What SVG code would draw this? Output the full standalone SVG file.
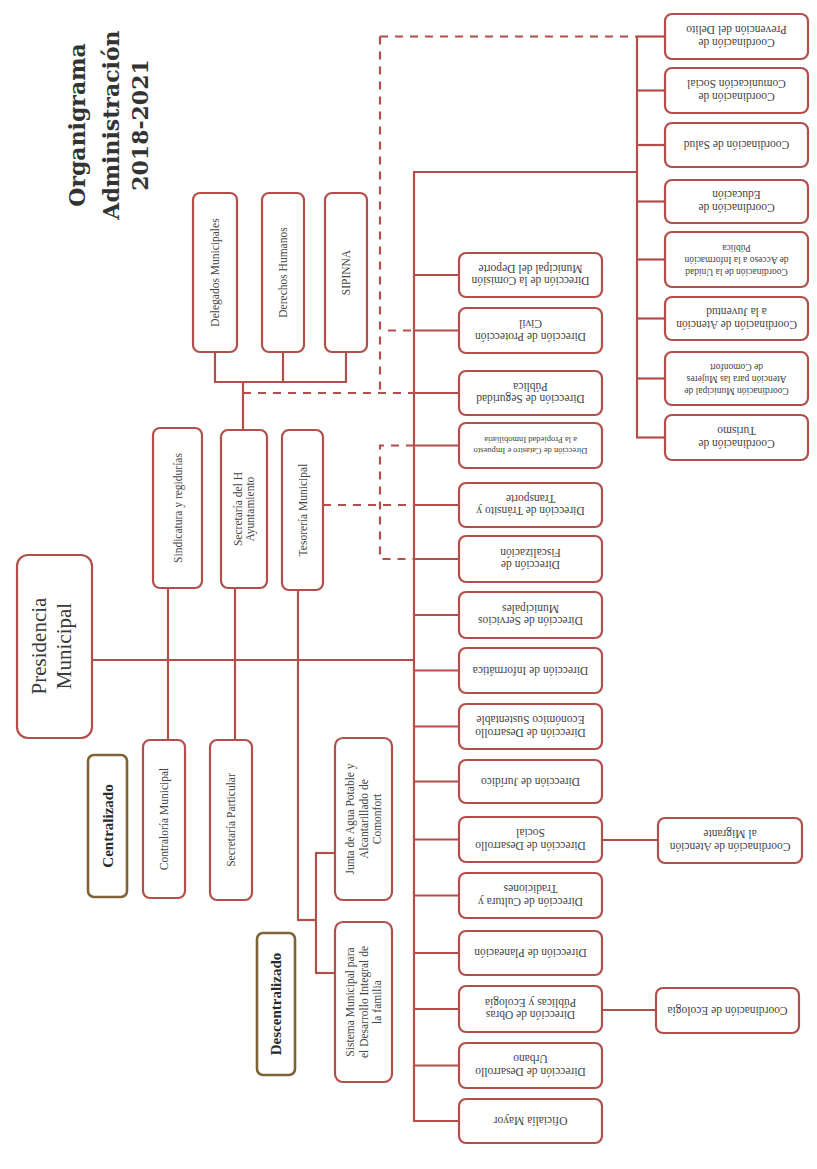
<svg xmlns="http://www.w3.org/2000/svg" width="817" height="1169" viewBox="0 0 817 1169">
<style>
.bg{fill:#ffffff}
.box{fill:#ffffff;stroke:#b24f4a;stroke-width:2.2}
.cat{fill:#ffffff;stroke:#7f6238;stroke-width:2.6}
.conn{stroke:#b24f4a;stroke-width:2.2;fill:none}
.dash{stroke-dasharray:8 7}
.t{font-family:"Liberation Serif","Times New Roman",serif;font-size:11.5px;fill:#444444;text-anchor:middle}
.s{font-size:9.5px}
.xs{font-size:8.5px}
.big{font-size:21px;fill:#3a3a3a}
.b{font-weight:bold;font-size:15px;fill:#2a2a2a}
.title{font-family:"DejaVu Serif",serif;font-weight:bold;font-size:22px;fill:#333333;text-anchor:middle}
</style>
<rect class="bg" x="0" y="0" width="817" height="1169"/>

<g id="titulo">
<text class="title" transform="rotate(-90 111 125)"><tspan x="111" y="99">Organigrama</tspan><tspan x="111" y="133">Administración</tspan><tspan x="111" y="162">2018-2021</tspan></text>
</g>

<g id="connectors">
<!-- main bus -->
<line class="conn" x1="414" y1="172" x2="414" y2="1121"/>
<line class="conn" x1="413" y1="172" x2="637" y2="172"/>
<!-- coordinaciones bus -->
<line class="conn" x1="637" y1="36.5" x2="637" y2="437.5"/>
<line class="conn" x1="637" y1="36.5" x2="665" y2="36.5"/>
<line class="conn" x1="637" y1="90.5" x2="665" y2="90.5"/>
<line class="conn" x1="637" y1="145" x2="665" y2="145"/>
<line class="conn" x1="637" y1="201.5" x2="665" y2="201.5"/>
<line class="conn" x1="637" y1="259.5" x2="665" y2="259.5"/>
<line class="conn" x1="637" y1="318.5" x2="665" y2="318.5"/>
<line class="conn" x1="637" y1="378.5" x2="665" y2="378.5"/>
<line class="conn" x1="636" y1="437.5" x2="665" y2="437.5"/>
<!-- direcciones stubs -->
<line class="conn" x1="414" y1="275" x2="459" y2="275"/>
<line class="conn" x1="414" y1="330.5" x2="459" y2="330.5"/>
<line class="conn" x1="414" y1="393" x2="459" y2="393"/>
<line class="conn" x1="414" y1="445.5" x2="459" y2="445.5"/>
<line class="conn" x1="414" y1="505" x2="459" y2="505"/>
<line class="conn" x1="414" y1="559" x2="459" y2="559"/>
<line class="conn" x1="414" y1="615" x2="459" y2="615"/>
<line class="conn" x1="414" y1="670.5" x2="459" y2="670.5"/>
<line class="conn" x1="414" y1="726.5" x2="459" y2="726.5"/>
<line class="conn" x1="414" y1="781.5" x2="459" y2="781.5"/>
<line class="conn" x1="414" y1="839.5" x2="459" y2="839.5"/>
<line class="conn" x1="414" y1="895.5" x2="459" y2="895.5"/>
<line class="conn" x1="414" y1="953" x2="459" y2="953"/>
<line class="conn" x1="414" y1="1009" x2="459" y2="1009"/>
<line class="conn" x1="414" y1="1065.5" x2="459" y2="1065.5"/>
<line class="conn" x1="413" y1="1121" x2="459" y2="1121"/>
<!-- sub coordinaciones -->
<line class="conn" x1="602" y1="840" x2="658" y2="840"/>
<line class="conn" x1="602" y1="1010" x2="656" y2="1010"/>
<!-- presidencia -->
<line class="conn" x1="92" y1="660" x2="414" y2="660"/>
<line class="conn" x1="168" y1="588" x2="168" y2="740"/>
<line class="conn" x1="235" y1="588" x2="235" y2="740"/>
<line class="conn" x1="298" y1="590" x2="298" y2="920"/>
<polyline class="conn" points="297,920 316,920"/>
<line class="conn" x1="316" y1="853" x2="316" y2="973"/>
<line class="conn" x1="315" y1="853" x2="335" y2="853"/>
<line class="conn" x1="315" y1="973" x2="335" y2="973"/>
<!-- delegados -->
<line class="conn" x1="215" y1="352" x2="215" y2="382"/>
<line class="conn" x1="283" y1="352" x2="283" y2="382"/>
<line class="conn" x1="346" y1="352" x2="346" y2="382"/>
<line class="conn" x1="214" y1="382" x2="347" y2="382"/>
<line class="conn" x1="243" y1="382" x2="243" y2="430"/>
<!-- dashed -->
<line class="conn dash" x1="380" y1="36.5" x2="637" y2="36.5"/>
<line class="conn dash" x1="380" y1="36.5" x2="380" y2="393"/>
<line class="conn dash" x1="243" y1="393" x2="414" y2="393"/>
<line class="conn dash" x1="388" y1="330.5" x2="414" y2="330.5"/>
<line class="conn dash" x1="323" y1="505" x2="414" y2="505"/>
<polyline class="conn dash" points="414,445.5 380,445.5 380,559 414,559"/>
</g>

<g id="presidencia"><rect class="box" x="17" y="555" width="75" height="183" rx="11"/>
<text class="t big" transform="rotate(-90 51 646)"><tspan x="51" y="641">Presidencia</tspan><tspan x="51" y="666">Municipal</tspan></text></g>

<g id="centralizado"><rect class="cat" x="88" y="755" width="39" height="142" rx="6"/>
<text class="t b" transform="rotate(-90 107.5 826)" x="107.5" y="831">Centralizado</text></g>
<g id="descentralizado"><rect class="cat" x="257" y="933" width="38" height="142" rx="6"/>
<text class="t b" transform="rotate(-90 276 1004)" x="276" y="1009">Descentralizado</text></g>

<g id="delegados"><rect class="box" x="193" y="193" width="44" height="159" rx="7"/>
<text class="t" transform="rotate(-90 215 272.5)" x="215" y="276.5">Delegados Municipales</text></g>
<g id="derechos"><rect class="box" x="262" y="193" width="42" height="159" rx="7"/>
<text class="t" transform="rotate(-90 283 272.5)" x="283" y="276.5">Derechos Humanos</text></g>
<g id="sipinna"><rect class="box" x="325" y="193" width="42" height="159" rx="7"/>
<text class="t" transform="rotate(-90 346 272.5)" x="346" y="276.5">SIPINNA</text></g>

<g id="sindicatura"><rect class="box" x="153" y="428" width="49" height="160" rx="7"/>
<text class="t" transform="rotate(-90 177.5 508)" x="177.5" y="512">Sindicatura y regidurías</text></g>
<g id="secretaria"><rect class="box" x="221" y="430" width="46" height="158" rx="7"/>
<text class="t" transform="rotate(-90 244 509)"><tspan x="244" y="506.5">Secretaría del H</tspan><tspan x="244" y="519">Ayuntamiento</tspan></text></g>
<g id="tesoreria"><rect class="box" x="282" y="430" width="41" height="160" rx="7"/>
<text class="t" transform="rotate(-90 302.5 510)" x="302.5" y="514">Tesorería Municipal</text></g>
<g id="contraloria"><rect class="box" x="143" y="740" width="42" height="158" rx="7"/>
<text class="t" transform="rotate(-90 164 819)" x="164" y="823">Contraloría Municipal</text></g>
<g id="particular"><rect class="box" x="210" y="740" width="42" height="160" rx="7"/>
<text class="t" transform="rotate(-90 231 820)" x="231" y="824">Secretaría Particular</text></g>
<g id="junta"><rect class="box" x="335" y="738" width="57" height="162" rx="8"/>
<text class="t" transform="rotate(-90 363.5 819)"><tspan x="363.5" y="809.5">Junta de Agua Potable y</tspan><tspan x="363.5" y="823">Alcantarillado de</tspan><tspan x="363.5" y="836.5">Comonfort</tspan></text></g>
<g id="dif"><rect class="box" x="335" y="922" width="57" height="160" rx="8"/>
<text class="t" transform="rotate(-90 363.5 1002)"><tspan x="363.5" y="992.5">Sistema Municipal para</tspan><tspan x="363.5" y="1006">el Desarrollo Integral de</tspan><tspan x="363.5" y="1019.5">la familia</tspan></text></g>

<!-- Coordinaciones -->
<g id="c-prevencion"><rect class="box" x="665" y="14" width="143" height="45" rx="7"/>
<text class="t" transform="rotate(180 736.5 36.5)"><tspan x="736.5" y="34.25">Coordinación de</tspan><tspan x="736.5" y="46.75">Prevención del Delito</tspan></text></g>
<g id="c-comunicacion"><rect class="box" x="665" y="68" width="143" height="45" rx="7"/>
<text class="t" transform="rotate(180 736.5 90.5)"><tspan x="736.5" y="88.25">Coordinación de</tspan><tspan x="736.5" y="100.75">Comunicación Social</tspan></text></g>
<g id="c-salud"><rect class="box" x="665" y="123" width="143" height="44" rx="7"/>
<text class="t" transform="rotate(180 736.5 145)" x="736.5" y="149">Coordinación de Salud</text></g>
<g id="c-educacion"><rect class="box" x="665" y="180" width="143" height="43" rx="7"/>
<text class="t" transform="rotate(180 736.5 201.5)"><tspan x="736.5" y="199.25">Coordinación de</tspan><tspan x="736.5" y="211.75">Educación</tspan></text></g>
<g id="c-transparencia"><rect class="box" x="665" y="232" width="143" height="55" rx="7"/>
<text class="t s" transform="rotate(180 736.5 259.5)"><tspan x="736.5" y="250.5">Coordinación de la Unidad</tspan><tspan x="736.5" y="262.5">de Acceso a la Información</tspan><tspan x="736.5" y="274.5">Pública</tspan></text></g>
<g id="c-juventud"><rect class="box" x="665" y="297" width="143" height="43" rx="7"/>
<text class="t" transform="rotate(180 736.5 318.5)"><tspan x="736.5" y="316.25">Coordinación de Atención</tspan><tspan x="736.5" y="328.75">a la Juventud</tspan></text></g>
<g id="c-mujeres"><rect class="box" x="665" y="352" width="143" height="53" rx="7"/>
<text class="t s" transform="rotate(180 736.5 378.5)"><tspan x="736.5" y="369.5">Coordinación Municipal de</tspan><tspan x="736.5" y="381.5">Atención para las Mujeres</tspan><tspan x="736.5" y="393.5">de Comonfort</tspan></text></g>
<g id="c-turismo"><rect class="box" x="665" y="415" width="143" height="45" rx="7"/>
<text class="t" transform="rotate(180 736.5 437.5)"><tspan x="736.5" y="435.25">Coordinación de</tspan><tspan x="736.5" y="447.75">Turismo</tspan></text></g>

<!-- Direcciones -->
<g id="d-deporte"><rect class="box" x="459" y="253" width="143" height="44" rx="7"/>
<text class="t" transform="rotate(180 530.5 275)"><tspan x="530.5" y="272.75">Dirección de la Comisión</tspan><tspan x="530.5" y="285.25">Municipal del Deporte</tspan></text></g>
<g id="d-proteccion"><rect class="box" x="459" y="308" width="143" height="45" rx="7"/>
<text class="t" transform="rotate(180 530.5 330.5)"><tspan x="530.5" y="328.25">Dirección de Protección</tspan><tspan x="530.5" y="340.75">Civil</tspan></text></g>
<g id="d-seguridad"><rect class="box" x="459" y="371" width="143" height="44" rx="7"/>
<text class="t" transform="rotate(180 530.5 393)"><tspan x="530.5" y="390.75">Dirección de Seguridad</tspan><tspan x="530.5" y="403.25">Pública</tspan></text></g>
<g id="d-catastro"><rect class="box" x="459" y="423" width="143" height="45" rx="7"/>
<text class="t xs" transform="rotate(180 530.5 445.5)"><tspan x="530.5" y="443.5">Dirección de Catastro e Impuesto</tspan><tspan x="530.5" y="454">a la Propiedad Inmobiliaria</tspan></text></g>
<g id="d-transito"><rect class="box" x="459" y="483" width="143" height="44" rx="7"/>
<text class="t" transform="rotate(180 530.5 505)"><tspan x="530.5" y="502.75">Dirección de Tránsito y</tspan><tspan x="530.5" y="515.25">Transporte</tspan></text></g>
<g id="d-fiscalizacion"><rect class="box" x="459" y="536" width="143" height="46" rx="7"/>
<text class="t" transform="rotate(180 530.5 559)"><tspan x="530.5" y="556.75">Dirección de</tspan><tspan x="530.5" y="569.25">Fiscalización</tspan></text></g>
<g id="d-servicios"><rect class="box" x="459" y="592" width="143" height="46" rx="7"/>
<text class="t" transform="rotate(180 530.5 615)"><tspan x="530.5" y="612.75">Dirección de Servicios</tspan><tspan x="530.5" y="625.25">Municipales</tspan></text></g>
<g id="d-informatica"><rect class="box" x="459" y="648" width="143" height="45" rx="7"/>
<text class="t" transform="rotate(180 530.5 670.5)" x="530.5" y="674.5">Dirección de Informática</text></g>
<g id="d-economico"><rect class="box" x="459" y="704" width="143" height="45" rx="7"/>
<text class="t" transform="rotate(180 530.5 726.5)"><tspan x="530.5" y="724.25">Dirección de Desarrollo</tspan><tspan x="530.5" y="736.75">Económico Sustentable</tspan></text></g>
<g id="d-juridico"><rect class="box" x="459" y="760" width="143" height="43" rx="7"/>
<text class="t" transform="rotate(180 530.5 781.5)" x="530.5" y="785.5">Dirección de Jurídico</text></g>
<g id="d-social"><rect class="box" x="459" y="817" width="143" height="45" rx="7"/>
<text class="t" transform="rotate(180 530.5 839.5)"><tspan x="530.5" y="837.25">Dirección de Desarrollo</tspan><tspan x="530.5" y="849.75">Social</tspan></text></g>
<g id="d-cultura"><rect class="box" x="459" y="873" width="143" height="45" rx="7"/>
<text class="t" transform="rotate(180 530.5 895.5)"><tspan x="530.5" y="893.25">Dirección de Cultura y</tspan><tspan x="530.5" y="905.75">Tradiciones</tspan></text></g>
<g id="d-planeacion"><rect class="box" x="459" y="931" width="143" height="44" rx="7"/>
<text class="t" transform="rotate(180 530.5 953)" x="530.5" y="957">Dirección de Planeación</text></g>
<g id="d-obras"><rect class="box" x="459" y="986" width="143" height="46" rx="7"/>
<text class="t" transform="rotate(180 530.5 1009)"><tspan x="530.5" y="1006.75">Dirección de Obras</tspan><tspan x="530.5" y="1019.25">Públicas y Ecología</tspan></text></g>
<g id="d-urbano"><rect class="box" x="459" y="1043" width="143" height="45" rx="7"/>
<text class="t" transform="rotate(180 530.5 1065.5)"><tspan x="530.5" y="1063.25">Dirección de Desarrollo</tspan><tspan x="530.5" y="1075.75">Urbano</tspan></text></g>
<g id="d-oficialia"><rect class="box" x="459" y="1099" width="143" height="44" rx="7"/>
<text class="t" transform="rotate(180 530.5 1121)" x="530.5" y="1125">Oficialía Mayor</text></g>

<g id="c-migrante"><rect class="box" x="658" y="818" width="144" height="45" rx="7"/>
<text class="t" transform="rotate(180 730 840.5)"><tspan x="730" y="838.25">Coordinación de Atención</tspan><tspan x="730" y="850.75">al Migrante</tspan></text></g>
<g id="c-ecologia"><rect class="box" x="656" y="988" width="143" height="45" rx="7"/>
<text class="t" transform="rotate(180 727.5 1010.5)" x="727.5" y="1014.5">Coordinación de Ecología</text></g>
</svg>
